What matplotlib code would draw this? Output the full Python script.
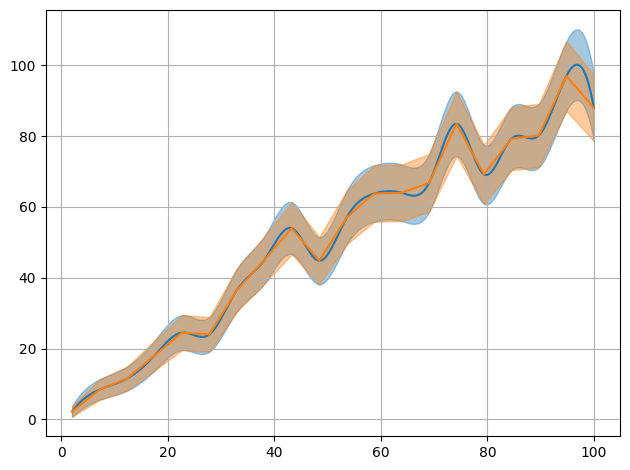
import numpy as np
import matplotlib
matplotlib.use("Agg")
import matplotlib.pyplot as plt

# knots
x_knots = np.linspace(2, 100, 20)
y_knots = [2.2, 8.4, 11.5, 18.0, 24.5, 24.0, 36.5, 45.0, 54.0, 44.8,
           57.0, 63.8, 64.0, 66.8, 83.5, 69.2, 79.3, 80.2, 97.0, 88.0]


def spline(x, y, t):
    # cubic spline, not-a-knot ends
    x = np.asarray(x, float)
    y = np.asarray(y, float)
    n = len(x)
    h = np.diff(x)
    A = np.zeros((n, n))
    b = np.zeros(n)
    A[0, 0], A[0, 1], A[0, 2] = h[1], -(h[0] + h[1]), h[0]
    for i in range(1, n - 1):
        A[i, i - 1] = h[i - 1]
        A[i, i] = 2 * (h[i - 1] + h[i])
        A[i, i + 1] = h[i]
        b[i] = 6 * ((y[i + 1] - y[i]) / h[i] - (y[i] - y[i - 1]) / h[i - 1])
    A[-1, -3], A[-1, -2], A[-1, -1] = h[-1], -(h[-2] + h[-1]), h[-2]
    M = np.linalg.solve(A, b)
    idx = np.clip(np.searchsorted(x, t) - 1, 0, n - 2)
    x0, x1 = x[idx], x[idx + 1]
    hh = x1 - x0
    return (M[idx] * (x1 - t) ** 3 / (6 * hh) + M[idx + 1] * (t - x0) ** 3 / (6 * hh)
            + (y[idx] / hh - M[idx] * hh / 6) * (x1 - t)
            + (y[idx + 1] / hh - M[idx + 1] * hh / 6) * (t - x0))


xs = np.linspace(2, 100, 500)
ys = spline(x_knots, y_knots, xs)
yk = np.array(y_knots)
err_s = np.sqrt(np.clip(ys, 0, None))
err_k = np.sqrt(yk)

fig, ax = plt.subplots(figsize=(6.3, 4.7), dpi=100)
ax.fill_between(xs, ys - err_s, ys + err_s, color="C0", alpha=0.4)
ax.fill_between(x_knots, yk - err_k, yk + err_k, color="C1", alpha=0.4)
ax.plot(xs, ys, color="C0")
ax.plot(x_knots, yk, color="C1")
ax.grid(True)
fig.subplots_adjust(left=0.073, right=0.984, top=0.979, bottom=0.072)
fig.savefig("out.png")
